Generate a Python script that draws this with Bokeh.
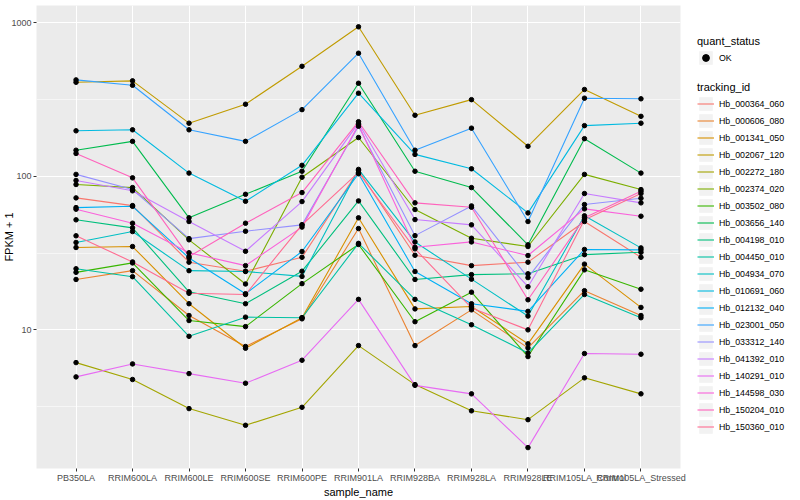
from bokeh.plotting import figure
from bokeh.models import (FactorRange, Range1d, FixedTicker, BasicTickFormatter,
                          Legend, LegendItem, ColumnDataSource)
from bokeh.layouts import row
from bokeh.embed import file_html
from bokeh.resources import INLINE

samples = ["PB350LA", "RRIM600LA", "RRIM600LE", "RRIM600SE", "RRIM600PE",
           "RRIM901LA", "RRIM928BA", "RRIM928LA", "RRIM928LE",
           "RRIM105LA_Control", "RRIM105LA_Stressed"]

tracking_ids = ["Hb_000364_060", "Hb_000606_080", "Hb_001341_050", "Hb_002067_120",
                "Hb_002272_180", "Hb_002374_020", "Hb_003502_080", "Hb_003656_140",
                "Hb_004198_010", "Hb_004450_010", "Hb_004934_070", "Hb_010691_060",
                "Hb_012132_040", "Hb_023001_050", "Hb_033312_140", "Hb_041392_010",
                "Hb_140291_010", "Hb_144598_030", "Hb_150204_010", "Hb_150360_010"]

# FPKM + 1 for each tracking id, in sample order
hb_000364_060 = [72.4, 64.5, 27.6, 24.1, 29.7, 109, 30.6, 26.2, 27.6, 50.8, 29.7]
hb_000606_080 = [21.3, 24.3, 12.4, 7.79, 11.8, 45.7, 7.90, 13.5, 7.63, 18.0, 12.4]
hb_001341_050 = [34.4, 34.9, 14.8, 7.59, 12.0, 53.7, 13.7, 14.2, 8.11, 26.8, 14.0]
hb_002067_120 = [410, 419, 222, 295, 521, 942, 250, 316, 157, 368, 246]
hb_002272_180 = [6.12, 4.75, 3.07, 2.39, 3.13, 7.90, 4.40, 2.97, 2.60, 4.87, 3.83]
hb_002374_020 = [88.5, 84.5, 38.6, 19.9, 98.7, 179, 60.8, 39.5, 34.9, 103, 82.0]
hb_003502_080 = [23.7, 27.3, 11.5, 10.5, 20.0, 36.0, 11.3, 17.6, 6.70, 24.6, 18.4]
hb_003656_140 = [148, 169, 53.7, 76.4, 108, 404, 108, 84.5, 35.8, 176, 105]
hb_004198_010 = [52.1, 46.2, 17.7, 14.8, 24.1, 69.2, 21.3, 22.9, 23.2, 30.9, 32.0]
hb_004450_010 = [25.0, 22.2, 9.08, 12.1, 12.0, 36.6, 15.8, 10.8, 7.08, 17.0, 12.0]
hb_004934_070 = [37.1, 43.7, 24.3, 24.0, 22.3, 111, 37.4, 21.4, 12.3, 55.3, 34.2]
hb_010691_060 = [198, 201, 105, 68.8, 118, 348, 139, 112, 57.8, 214, 222]
hb_012132_040 = [62.6, 63.8, 29.4, 17.2, 32.4, 104, 24.0, 14.8, 13.2, 33.4, 33.2]
hb_023001_050 = [425, 392, 201, 169, 272, 634, 148, 206, 50.8, 323, 320]
hb_033312_140 = [103, 82.0, 39.3, 43.9, 48.3, 212, 41.1, 64.2, 21.9, 65.5, 72.0]
hb_041392_010 = [94.0, 80.5, 50.8, 32.5, 68.5, 222, 52.3, 48.3, 19.1, 77.3, 67.2]
hb_140291_010 = [4.94, 6.00, 5.19, 4.49, 6.34, 15.8, 4.35, 3.83, 1.71, 7.01, 6.94]
hb_144598_030 = [61.1, 49.5, 31.8, 26.2, 46.7, 217, 34.5, 37.4, 30.5, 61.4, 55.0]
hb_150204_010 = [141, 97.8, 30.0, 49.5, 78.4, 227, 67.2, 62.9, 15.7, 53.7, 80.0]
hb_150360_010 = [41.0, 27.7, 17.3, 17.0, 48.3, 106, 33.7, 13.9, 10.0, 52.1, 77.3]

series = [hb_000364_060, hb_000606_080, hb_001341_050, hb_002067_120, hb_002272_180,
          hb_002374_020, hb_003502_080, hb_003656_140, hb_004198_010, hb_004450_010,
          hb_004934_070, hb_010691_060, hb_012132_040, hb_023001_050, hb_033312_140,
          hb_041392_010, hb_140291_010, hb_144598_030, hb_150204_010, hb_150360_010]

palette = ["#F8766D", "#EA8331", "#D89000", "#C09B00", "#A3A500", "#7CAE00", "#39B600",
           "#00BB4E", "#00BF7D", "#00C1A3", "#00BFC4", "#00BAE0", "#00B0F6", "#35A2FF",
           "#9590FF", "#C77CFF", "#E76BF3", "#FA62DB", "#FF62BC", "#FF6C91"]

FONT = "Liberation Sans"
H = 500

p = figure(width=688, height=H,
           x_range=FactorRange(factors=samples, range_padding=0.2, range_padding_units="absolute"),
           y_axis_type="log", y_range=Range1d(1.25, 1297),
           output_backend="svg", toolbar_location=None,
           background_fill_color="#EBEBEB", border_fill_color="white",
           outline_line_color=None,
           min_border_left=0, min_border_right=8, min_border_top=5, min_border_bottom=0)

for tid, vals, col in zip(tracking_ids, series, palette):
    src = ColumnDataSource(dict(x=samples, y=vals))
    p.line("x", "y", source=src, line_color=col, line_width=1.1)

for tid, vals in zip(tracking_ids, series):
    src = ColumnDataSource(dict(x=samples, y=vals))
    p.scatter("x", "y", source=src, size=4.5, fill_color="black", line_color="black")

yticker = FixedTicker(ticks=[10, 100, 1000], minor_ticks=[10 ** 0.5, 10 ** 1.5, 10 ** 2.5])
p.yaxis.ticker = yticker
p.ygrid.ticker = yticker
p.yaxis.formatter = BasicTickFormatter()

p.xgrid.grid_line_color = "white"
p.xgrid.grid_line_width = 1.1
p.ygrid.grid_line_color = "white"
p.ygrid.grid_line_width = 1.1
p.ygrid.minor_grid_line_color = "white"
p.ygrid.minor_grid_line_width = 0.55

for ax in (p.xaxis, p.yaxis):
    ax.axis_line_color = None
    ax.major_tick_line_color = "#333333"
    ax.major_tick_out = 3
    ax.major_tick_in = 0
    ax.minor_tick_line_color = None
    ax.major_label_text_font = FONT
    ax.major_label_text_font_size = "9px"
    ax.major_label_text_color = "#4D4D4D"
    ax.major_label_standoff = 1
    ax.axis_label_text_font = FONT
    ax.axis_label_text_font_size = "11px"
    ax.axis_label_text_font_style = "normal"
    ax.axis_label_text_color = "black"
    ax.axis_label_standoff = 0

p.yaxis.axis_label_standoff = -7
p.xaxis.axis_label = "sample_name"
p.yaxis.axis_label = "FPKM + 1"

# Legend panel (proxy glyphs sit outside the visible range)
lg = figure(width=104, height=H, x_range=Range1d(0, 1), y_range=Range1d(0, 1),
            output_backend="svg", toolbar_location=None, outline_line_color=None,
            x_axis_location=None, y_axis_location=None, min_border=0,
            background_fill_color="white", border_fill_color="white")
lg.grid.visible = False

off = [-10, -9]
key_bg = lg.rect(x=off[:1], y=off[:1], width=1, height=1, fill_color="#F2F2F2", line_color=None)
ok_pt = lg.scatter(x=off[:1], y=off[:1], size=4, fill_color="black", line_color="black")
key_lines = [lg.line(x=off, y=off, line_color=c, line_width=1.1) for c in palette]

def style_legend(leg):
    leg.title_text_font = FONT
    leg.title_text_font_size = "11px"
    leg.title_text_font_style = "normal"
    leg.title_text_color = "black"
    leg.title_standoff = 2
    leg.label_text_font = FONT
    leg.label_text_font_size = "8.8px"
    leg.label_text_color = "black"
    leg.label_standoff = 5
    leg.label_height = 17
    leg.glyph_width = 17
    leg.glyph_height = 17
    leg.spacing = 0
    leg.padding = 0
    leg.margin = 0
    leg.border_line_color = None
    leg.background_fill_alpha = 0

leg1 = Legend(items=[LegendItem(label="OK", renderers=[key_bg, ok_pt])],
              title="quant_status", location=(9, 402))
leg2 = Legend(items=[LegendItem(label=tid, renderers=[key_bg, ln])
                     for tid, ln in zip(tracking_ids, key_lines)],
              title="tracking_id", location=(9, 33))
style_legend(leg1)
style_legend(leg2)
lg.add_layout(leg1)
lg.add_layout(leg2)

layout = row(p, lg)
open("out.html", "w").write(file_html(layout, INLINE))
